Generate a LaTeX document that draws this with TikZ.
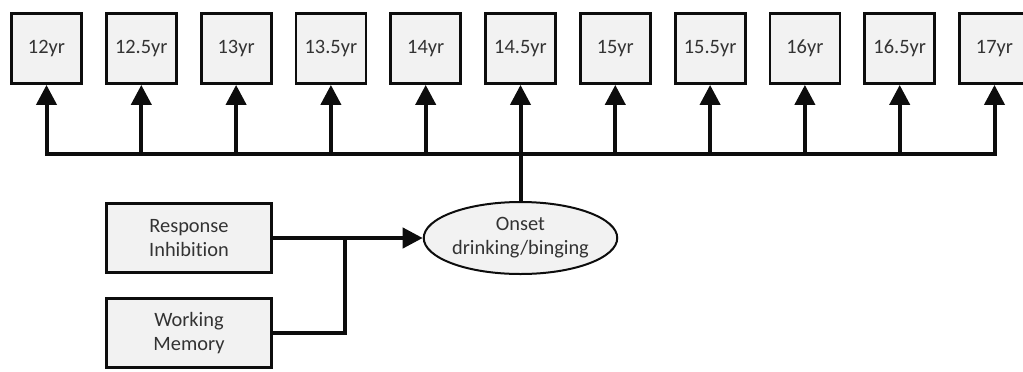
\documentclass[tikz,border=0pt]{standalone}
\usepackage{fontspec}
\setmainfont{Carlito}[Ligatures=NoCommon]
\usetikzlibrary{arrows.meta,positioning,shapes.geometric}
\definecolor{BoxFill}{HTML}{F2F2F2}
\definecolor{Ink}{HTML}{0D0D0D}

\begin{document}
\begin{tikzpicture}[
  agebox/.style={draw=Ink, fill=BoxFill, line width=1.4pt, minimum width=35pt,
                 minimum height=35pt, inner sep=0pt, align=center,
                 font=\fontsize{10.2}{12}\selectfont, text=black!80},
  efbox/.style={agebox, minimum width=82.5pt, minimum height=34.5pt},
  onsetel/.style={ellipse, draw=Ink, fill=BoxFill, line width=1pt, minimum width=95pt,
                  minimum height=36pt, inner sep=0pt, align=center,
                  font=\fontsize{10.2}{12}\selectfont, text=black!80},
  wire/.style={draw=Ink, line width=2pt},
  arr/.style={wire, -{Triangle[width=10pt,length=10pt]}},
  node distance=11pt
]
  \useasboundingbox (0,0) rectangle (511.5pt,-185.5pt);
  \node[agebox] (t1) at (23.25pt,-24.25pt) {12yr};
  \node[agebox, right=of t1]  (t2)  {12.5yr};
  \node[agebox, right=of t2]  (t3)  {13yr};
  \node[agebox, right=of t3]  (t4)  {13.5yr};
  \node[agebox, right=of t4]  (t5)  {14yr};
  \node[agebox, right=of t5]  (t6)  {14.5yr};
  \node[agebox, right=of t6]  (t7)  {15yr};
  \node[agebox, right=of t7]  (t8)  {15.5yr};
  \node[agebox, right=of t8]  (t9)  {16yr};
  \node[agebox, right=of t9]  (t10) {16.5yr};
  \node[agebox, right=of t10] (t11) {17yr};

  \node[onsetel] (onset) at (t6 |- 0,-119pt) {Onset\\drinking/binging};
  \node[efbox] (ri) at (94.5pt,-119pt) {Response\\Inhibition};
  \node[efbox, below=11.5pt of ri] (wm) {Working\\Memory};

  % bus to the time points
  \draw[wire] (onset.north) -- ++(0,23.5pt) coordinate (hub);
  \draw[wire, line cap=rect] (t1 |- hub) -- (t11 |- hub);
  \draw[arr] (t1 |- hub) -- (t1.south);
  \draw[arr] (t2 |- hub) -- (t2.south);
  \draw[arr] (t3 |- hub) -- (t3.south);
  \draw[arr] (t4 |- hub) -- (t4.south);
  \draw[arr] (t5 |- hub) -- (t5.south);
  \draw[arr] (t6 |- hub) -- (t6.south);
  \draw[arr] (t7 |- hub) -- (t7.south);
  \draw[arr] (t8 |- hub) -- (t8.south);
  \draw[arr] (t9 |- hub) -- (t9.south);
  \draw[arr] (t10 |- hub) -- (t10.south);
  \draw[arr] (t11 |- hub) -- (t11.south);

  % predictors
  \draw[arr] (ri.east) -- (onset.west);
  \draw[wire] (wm.east) -| ([xshift=36pt]ri.east);
\end{tikzpicture}
\end{document}
